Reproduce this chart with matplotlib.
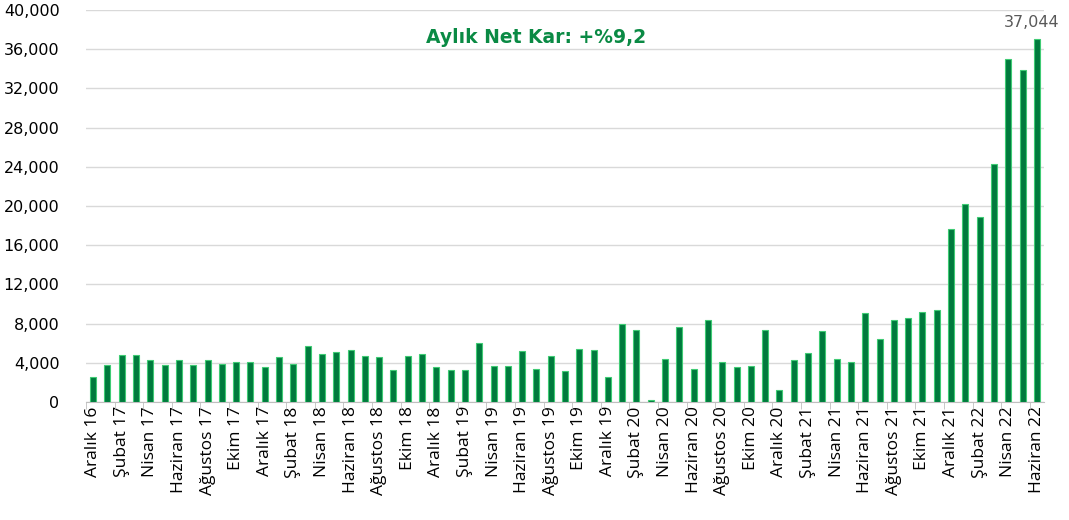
import numpy as np
import matplotlib.pyplot as plt
from matplotlib.ticker import FuncFormatter, MultipleLocator

# Aylık net kar (Aralık 2016 - Haziran 2022)
aylar = ["Ocak", "Şubat", "Mart", "Nisan", "Mayıs", "Haziran",
         "Temmuz", "Ağustos", "Eylül", "Ekim", "Kasım", "Aralık"]
etiketler = ["Aralık 16"] + [f"{a} {y}" for y in range(17, 23) for a in aylar]
etiketler = etiketler[:67]

net_kar = [
    2550, 3780, 4800, 4800, 4290, 3780, 4290, 3780, 4290, 3910, 4050, 4050,
    3540, 4560, 3910, 5680, 4930, 5070, 5300, 4690, 4560, 3300, 4690, 4930,
    3540, 3300, 3300, 6050, 3670, 3670, 5170, 3400, 4690, 3160, 5410, 5300,
    2550, 7960, 7310, 230, 4420, 7690, 3400, 8330, 4050, 3540, 3670, 7310,
    1260, 4290, 5030, 7200, 4420, 4050, 9080, 6430, 8330, 8570, 9220, 9350,
    17650, 20170, 18910, 24320, 35030, 33900, 37044,
]

fig = plt.figure(figsize=(10.69, 5.2), dpi=100)
ax = fig.add_axes([86 / 1069, 1 - 402 / 520, 958 / 1069, 392 / 520])

x = np.arange(len(net_kar))
ax.bar(x, net_kar, width=0.42, color="#007A3D", edgecolor="#3FCB74", linewidth=0.8, zorder=3)

ax.set_xlim(-0.5, len(net_kar) - 0.5)
ax.set_ylim(0, 40000)
ax.yaxis.set_major_locator(MultipleLocator(4000))
ax.yaxis.set_major_formatter(FuncFormatter(lambda v, p: f"{int(v):,}"))
ax.grid(axis="y", color="#D9D9D9", linewidth=1, zorder=0)

ax.set_xticks(x[::2])
ax.set_xticklabels(etiketler[::2], rotation=90, fontsize=12.5, family="Open Sans", color="#000000")
ax.set_xticks(np.arange(-0.5, len(net_kar), 2), minor=True)
ax.tick_params(axis="x", which="major", length=0, pad=3)
ax.tick_params(axis="x", which="minor", length=5, color="#BFBFBF")
ax.tick_params(axis="y", length=0, labelsize=11.5, pad=19, colors="#000000")

for s in ["top", "right", "left"]:
    ax.spines[s].set_visible(False)
ax.spines["bottom"].set_color("#BFBFBF")

ax.text(x[-1] - 0.4, net_kar[-1] + 900, f"{net_kar[-1]:,}", ha="center", va="bottom",
        fontsize=11.5, color="#595959")
ax.text(0.47, 0.93, "Aylık Net Kar: +%9,2", transform=ax.transAxes, ha="center",
        va="center", fontsize=13.5, fontweight="bold", color="#0A8A44")

fig.savefig("out.png", dpi=100)
